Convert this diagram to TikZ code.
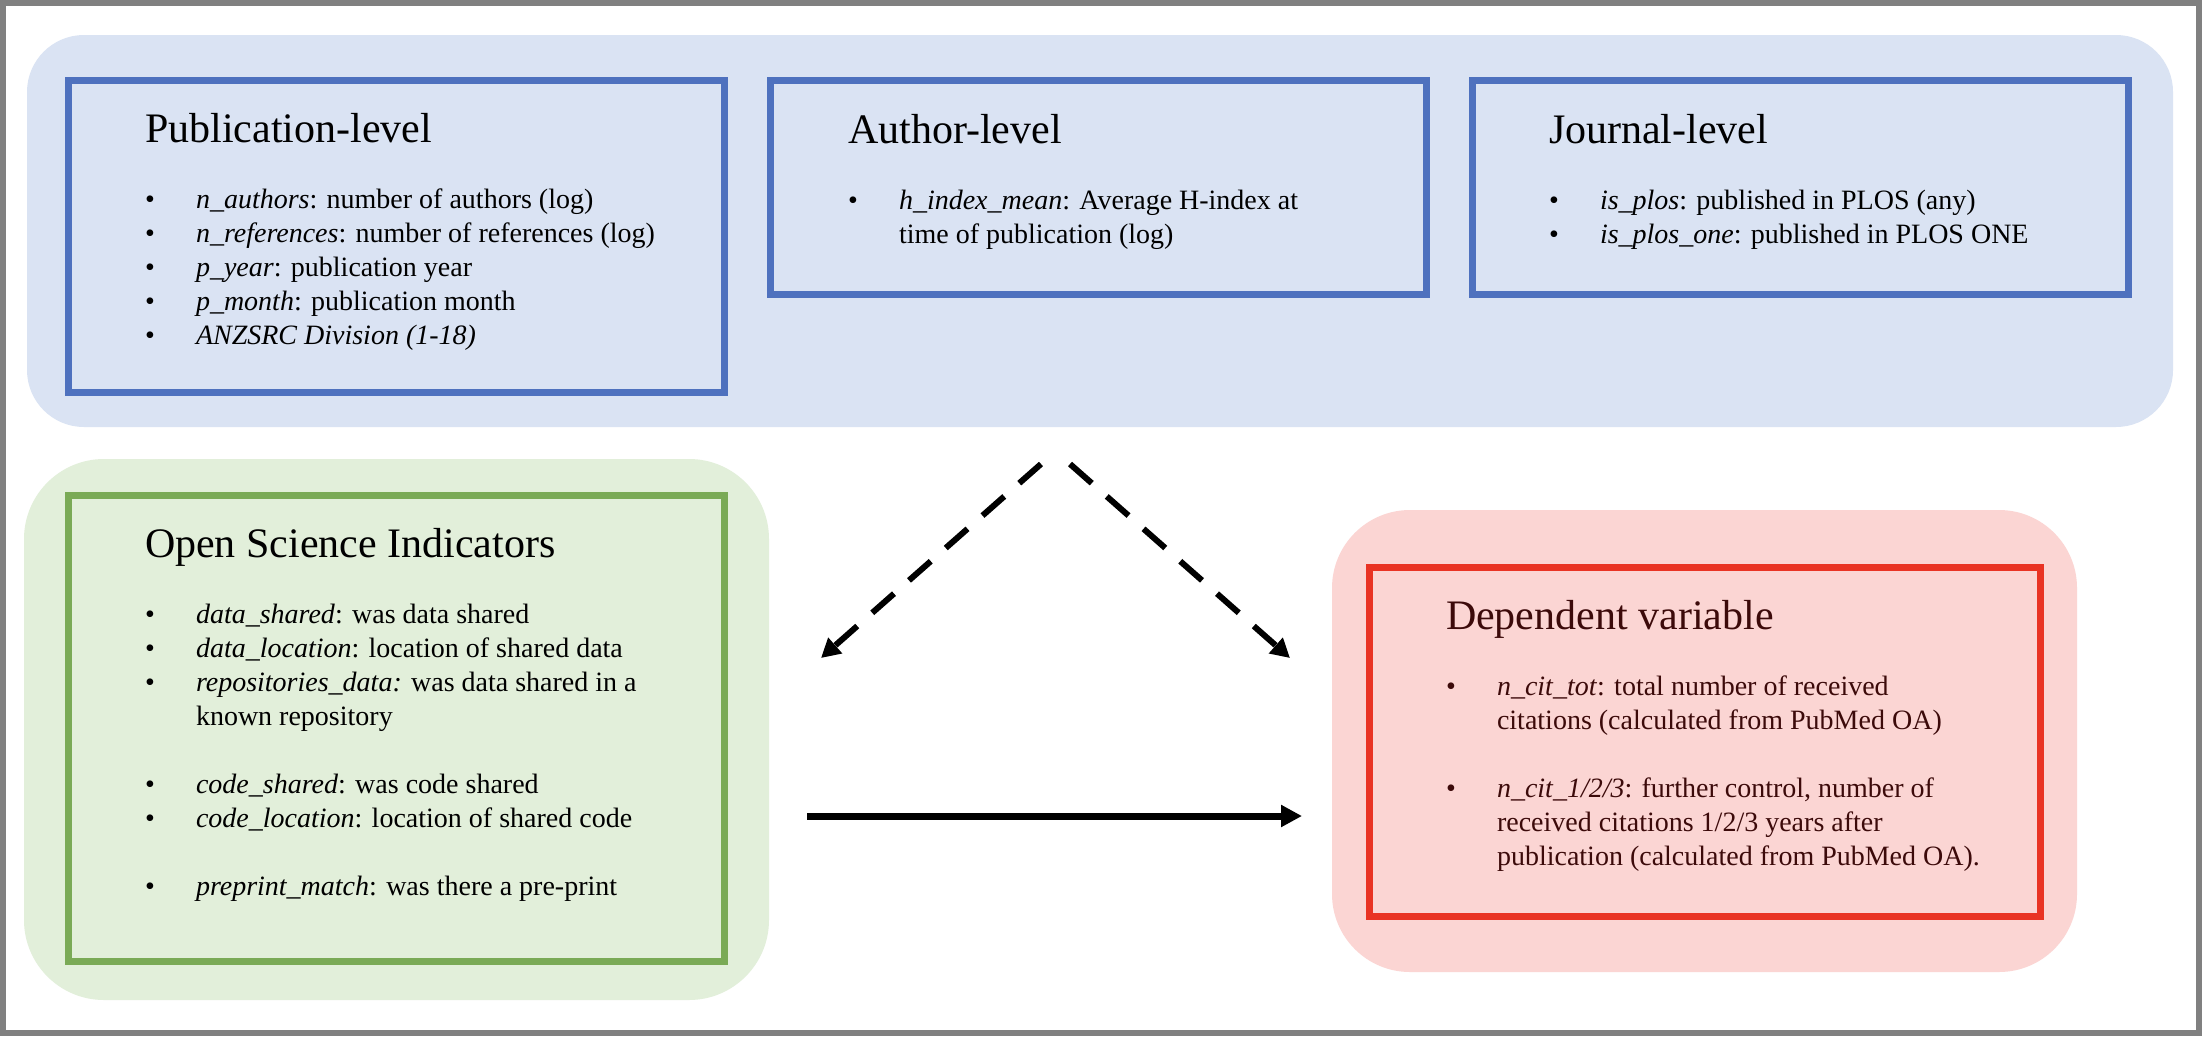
\documentclass[tikz,border=0pt]{standalone}
\usepackage{fontspec}
\setmainfont{Liberation Serif}
\usetikzlibrary{arrows.meta}
\definecolor{bluefill}{HTML}{DAE3F3}
\definecolor{bluedraw}{HTML}{4E71BE}
\definecolor{greenfill}{HTML}{E2EFDA}
\definecolor{greendraw}{HTML}{7AAA56}
\definecolor{pinkfill}{HTML}{FBD5D3}
\definecolor{reddraw}{HTML}{E93323}
\definecolor{redtext}{HTML}{3C0A0A}
\definecolor{framegray}{HTML}{808080}
\newcommand\ptitle[1]{{\fontsize{42}{50}\selectfont #1\par}\vspace{32pt}}
\newcommand\bitem[1]{\par\noindent\hangindent=51pt\hangafter=1\makebox[51pt][l]{\textbullet}#1\par}
\newcommand\bgap{\vspace{34pt}}
\newcommand\paneltext[1]{\begin{minipage}[t]{680pt}\raggedright\fontsize{28}{34}\selectfont #1\end{minipage}}
\tikzset{
  region/.style={draw=none, inner sep=0pt, outer sep=0pt},
  panelbox/.style={draw, line width=7pt, inner sep=0pt, outer sep=0pt},
  ptext/.style={anchor=base west, inner sep=0pt, outer sep=0pt},
  dasharrow/.style={line width=6pt, dash pattern=on 29pt off 20pt, -{Triangle[length=19pt,width=20pt]}},
  solidarrow/.style={line width=7pt, -{Triangle[length=21pt,width=21pt]}}
}
\begin{document}
\begin{tikzpicture}[x=1pt,y=-1pt]
\useasboundingbox (0,0) rectangle (2202,1036);
\fill[white] (0,0) rectangle (2202,1036);
% background regions
\node[region, fill=bluefill, rounded corners=57pt, minimum width=2146pt, minimum height=392pt] (toparea) at (1100,231) {};
\node[region, fill=greenfill, rounded corners=80pt, minimum width=745pt, minimum height=541pt] (greenarea) at (396.5,729.5) {};
\node[region, fill=pinkfill, rounded corners=78pt, minimum width=745pt, minimum height=462pt] (pinkarea) at (1704.5,741) {};
% boxes
\node[panelbox, draw=bluedraw, minimum width=656pt, minimum height=312pt] (pub) at (396.5,236.5) {};
\node[panelbox, draw=bluedraw, minimum width=656pt, minimum height=214pt] (author) at (1098.5,187.5) {};
\node[panelbox, draw=bluedraw, minimum width=656pt, minimum height=214pt] (journal) at (1800,187.5) {};
\node[panelbox, draw=greendraw, minimum width=656pt, minimum height=466pt] (osi) at (396.5,728) {};
\node[panelbox, draw=reddraw, minimum width=671pt, minimum height=349pt] (dep) at (1705,742) {};
% texts
\node[ptext] (pubtext) at (145,142) {\paneltext{%
\ptitle{Publication-level}
\bitem{\textit{n\_authors}: number of authors (log)}
\bitem{\textit{n\_references}: number of references (log)}
\bitem{\textit{p\_year}: publication year}
\bitem{\textit{p\_month}: publication month}
\bitem{\textit{ANZSRC Division (1-18)}}}};
\node[ptext] (authortext) at (848,143) {\paneltext{%
\ptitle{Author-level}
\bitem{\textit{h\_index\_mean}: Average H-index at\newline time of publication (log)}}};
\node[ptext] (journaltext) at (1549,143) {\paneltext{%
\ptitle{Journal-level}
\bitem{\textit{is\_plos}: published in PLOS (any)}
\bitem{\textit{is\_plos\_one}: published in PLOS ONE}}};
\node[ptext] (ositext) at (145,557) {\paneltext{%
\ptitle{Open Science Indicators}
\bitem{\textit{data\_shared}: was data shared}
\bitem{\textit{data\_location}: location of shared data}
\bitem{\textit{repositories\_data:} was data shared in a\newline known repository}
\bgap
\bitem{\textit{code\_shared}: was code shared}
\bitem{\textit{code\_location}: location of shared code}
\bgap
\bitem{\textit{preprint\_match}: was there a pre-print}}};
\node[ptext, text=redtext] (deptext) at (1446,629) {\paneltext{%
\ptitle{Dependent variable}
\bitem{\textit{n\_cit\_tot}: total number of received\newline citations (calculated from PubMed OA)}
\bgap
\bitem{\textit{n\_cit\_1/2/3}: further control, number of\newline received citations 1/2/3 years after\newline publication (calculated from PubMed OA).}}};
% connectors
\coordinate (lstart) at (1041,464);
\coordinate (lend) at (821,658);
\coordinate (rstart) at (1070,464);
\coordinate (rend) at (1290,658);
\coordinate (sstart) at (807,816);
\coordinate (send) at (1302,816);
\draw[dasharrow] (lstart) -- (lend);
\draw[dasharrow] (rstart) -- (rend);
\draw[solidarrow] (sstart) -- (send);
% outer frame
\node[draw=framegray, line width=6pt, inner sep=0pt, minimum width=2196pt, minimum height=1030pt] (frame) at (1101,518) {};
\end{tikzpicture}
\end{document}
